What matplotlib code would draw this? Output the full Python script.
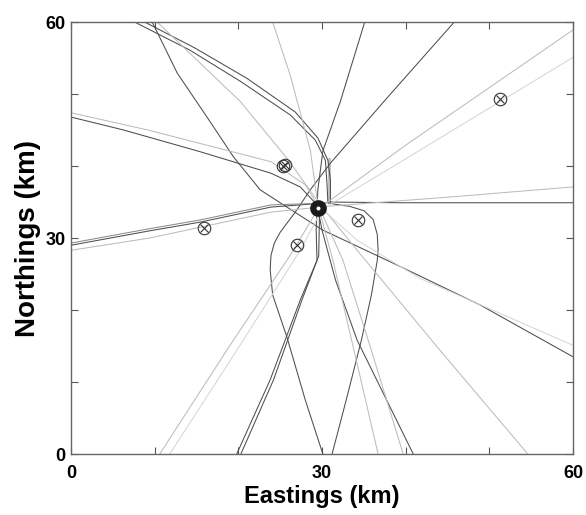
import numpy as np
import matplotlib
matplotlib.use('Agg')
import matplotlib.pyplot as plt

plt.rcParams['font.family'] = ['Liberation Sans', 'DejaVu Sans']

# station positions (km)
stations_x = [25.3, 25.6, 15.9, 27.0, 34.3, 51.3]
stations_y = [40.0, 40.2, 31.4, 29.0, 32.5, 49.3]

# located source
source_x = [29.5]
source_y = [34.2]

# traced curves (km), dark ones
arc_outer = [(7.6, 60), (14.2, 56.1), (20.2, 51.8), (26.2, 47.1), (29.2, 43.6), (30.4, 40.8),
             (30.6, 37.4), (30.7, 34.9), (31.5, 34.7), (33.3, 34.4), (35.0, 33.8), (36.1, 32.6),
             (36.6, 30.5), (36.7, 28.3), (36.6, 26.9), (35.9, 22.1), (34.7, 15.8), (33.0, 8.0), (31.2, 0)]
arc_inner = [(8.8, 60), (14.8, 56.4), (21.0, 52.2), (26.8, 47.5), (29.5, 43.9), (30.7, 40.8),
             (31.0, 38.0), (31.0, 35.0), (39.3, 34.9), (60, 34.9)]
left_loop = [(45.8, 60), (37.8, 49.5), (31.0, 40.4), (28.6, 36.7), (26.8, 33.6), (25.0, 30.8),
             (24.3, 29.3), (23.9, 27.6), (23.8, 25.6), (24.1, 22.1), (25.8, 16.25), (28.0, 7.5), (30.1, 0)]
steep_a = [(35.1, 60), (32.2, 49.0), (30.1, 42.1), (29.5, 36.7), (29.3, 31.1), (29.4, 26.9),
           (27.4, 21.4), (23.8, 10.3), (19.8, 0)]
steep_b = [(20.3, 0), (24.2, 10.3), (27.6, 21.4), (29.6, 27.5), (29.7, 33.5)]
diag_top = [(9.7, 60), (12.7, 52.9), (16.25, 46.8), (19.4, 41.3), (22.6, 36.7), (25.8, 34.3),
            (30.1, 31.1), (38.7, 26.4), (48.9, 20.7), (60, 13.5)]
diag_left = [(0, 46.8), (6.3, 45.0), (15.4, 42.0), (23.9, 39.0), (27.4, 37.1), (29.4, 34.6),
             (30.0, 31.1), (31.6, 24.2), (34.2, 15.8), (40.9, 0)]
flat_a = [(0, 29.0), (9.4, 31.0), (15.4, 32.2), (23.9, 34.3), (27.4, 34.6), (30.6, 34.9)]
flat_b = [(0, 29.3), (9.4, 31.3), (15.4, 32.5), (23.9, 34.6), (29.0, 34.8)]

# light ones
diag_left_lt = [(0, 47.4), (9.2, 45.0), (23.9, 40.6), (28.0, 37.4), (29.8, 33.9), (32.5, 26.9),
                (35.9, 14.4), (39.7, 0)]
steep_lt = [(24.1, 60), (26.2, 52.6), (28.6, 42.2), (29.5, 34.6), (31.3, 26.9), (33.7, 15.0), (36.7, 0)]
diag_top_lt = [(10.3, 60), (20.2, 49.0), (25.8, 41.1), (29.8, 34.6), (34.2, 28.3), (44.1, 14.4), (54.6, 0)]
right_lt = [(29.2, 35.7), (30.4, 33.6), (34.2, 29.7), (41.7, 24.4), (60, 15.1)]
flat_lt = [(0, 28.3), (9.4, 30.0), (23.9, 33.6), (30.6, 34.4), (45.3, 35.7), (60, 37.1)]
rise_a = [(10.6, 0), (19.0, 15.1), (26.2, 27.6), (29.5, 34.0), (40.0, 42.9), (60, 58.9)]
rise_b = [(11.8, 0), (20.2, 15.1), (27.4, 28.3), (30.0, 34.0), (40.0, 41.0), (60, 55.1)]
# bright band where the two arcs run together above the source
arc_join = [(30.8, 41.0), (30.8, 35.0)]

dark = '#4d4d4d'
mid = '#8a8a8a'
light = '#bcbcbc'
pale = '#d6d6d6'

curves = [
    (arc_outer, dark), (arc_inner, dark), (left_loop, dark), (steep_a, dark), (steep_b, dark),
    (diag_top, dark), (diag_left, dark), (flat_a, dark), (flat_b, mid),
    (diag_left_lt, light), (steep_lt, light), (diag_top_lt, light), (right_lt, pale),
    (flat_lt, light), (rise_a, light), (rise_b, pale),
]

fig = plt.figure(figsize=(5.86, 5.15), dpi=100)
ax = fig.add_axes([0.1212, 0.1184, 0.8567, 0.8388])

ax.plot([p[0] for p in arc_join], [p[1] for p in arc_join], color='#c4c4c4', lw=2.2, zorder=1)
for pts, col in curves:
    xs = [p[0] for p in pts]
    ys = [p[1] for p in pts]
    ax.plot(xs, ys, color=col, lw=0.75, zorder=2)

# stations: circle with a cross
ax.plot(stations_x, stations_y, 'o', ms=9, mfc='none', mec='#333333', mew=0.8, zorder=4)
ax.plot(stations_x, stations_y, 'x', ms=6, mec='#333333', mew=0.8, zorder=4)

# source
ax.plot(source_x, source_y, 'o', ms=7.5, mfc='white', mec='#1a1a1a', mew=4.5, zorder=5)

ax.set_xlim(0, 60)
ax.set_ylim(0, 60)
ticks = np.arange(0, 61, 10)
labels = ['0', '', '', '30', '', '', '60']
ax.set_xticks(ticks)
ax.set_xticklabels(labels)
ax.set_yticks(ticks)
ax.set_yticklabels(labels)
ax.tick_params(direction='in', length=5, width=0.8, color='#555555',
               top=True, right=True, labelsize=13)
ax.tick_params(axis='x', pad=8)
ax.tick_params(axis='y', pad=4)
for lab in ax.get_xticklabels() + ax.get_yticklabels():
    lab.set_fontweight('bold')
for sp in ax.spines.values():
    sp.set_color('#666666')
    sp.set_linewidth(1.0)

ax.set_xlabel('Eastings (km)', fontsize=17, fontweight='bold', labelpad=2)
ax.set_ylabel('Northings (km)', fontsize=20, fontweight='bold', labelpad=3)

fig.savefig('out.png', dpi=100)
